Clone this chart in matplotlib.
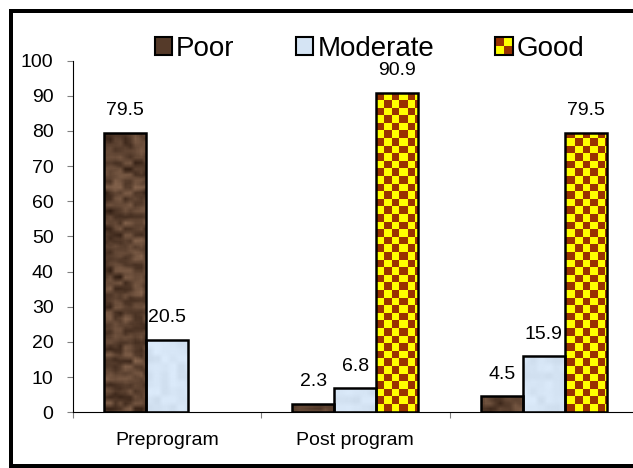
import numpy as np
import matplotlib.pyplot as plt
from matplotlib.patches import Rectangle
from matplotlib.legend_handler import HandlerBase


# --- data ---
categories = ["Preprogram", "Post program", ""]
series_names = ["Poor", "Moderate", "Good"]
poor = [79.5, 2.3, 4.5]
moderate = [20.5, 6.8, 15.9]
good = [0.0, 90.9, 79.5]
y_ticks = list(range(0, 101, 10))

plt.rcParams["font.family"] = ["Liberation Sans", "DejaVu Sans"]

W, H = 633, 468
fig = plt.figure(figsize=(W / 100, H / 100), dpi=100)
ax = fig.add_axes([72.7 / W, 55.7 / H, 565.3 / W, 351.8 / H])
XMIN, XMAX, YMIN, YMAX = -0.5, 2.5, 0, 100

# axes box size in pixels, used to size the fill textures
px_w, px_h = 566, 352
rng = np.random.default_rng(11)


def blocky_noise(by, bx):
    coarse = rng.random((px_h // by + 2, px_w // bx + 2))
    return np.kron(coarse, np.ones((by, bx)))[:px_h, :px_w]


def smooth(a, r=2):
    # small box blur made from shifted copies
    out = np.zeros_like(a)
    n = 0
    for dy in range(-r, r + 1):
        for dx in range(-r, r + 1):
            out += np.roll(np.roll(a, dy, axis=0), dx, axis=1)
            n += 1
    return out / n


def wood_texture():
    t = 0.55 * blocky_noise(6, 10) + 0.3 * blocky_noise(3, 5) + 0.15 * rng.random((px_h, px_w))
    t = smooth(t, 2)
    t = (t - t.min()) / (t.max() - t.min())
    dark = np.array([48, 29, 18]) / 255
    light = np.array([140, 106, 82]) / 255
    return dark + t[..., None] * (light - dark)


def blue_texture():
    t = smooth(0.7 * blocky_noise(8, 8) + 0.3 * rng.random((px_h, px_w)), 2)
    base = np.array([213, 228, 244]) / 255
    return np.clip(base + (t[..., None] - 0.5) * 0.08, 0, 1)


def checker_texture(size=7.6):
    yy, xx = np.mgrid[0:px_h, 0:px_w]
    mask = ((yy // size).astype(int) + (xx // size).astype(int)) % 2
    yellow = np.array([255, 255, 0]) / 255
    brown = np.array([153, 51, 0]) / 255
    return np.where(mask[..., None] == 1, brown, yellow)


textures = [wood_texture(), blue_texture(), checker_texture()]
legend_colors = ["#553a29", "#d5e4f4", None]

x = np.arange(len(categories))
w = 0.223
offsets = [-w, 0, w]

for vals, off, tex in zip([poor, moderate, good], offsets, textures):
    bars = ax.bar(x + off, vals, w, facecolor="none", edgecolor="black",
                  linewidth=1.8, zorder=3)
    for b, v in zip(bars, vals):
        if v <= 0:
            b.set_visible(False)
            continue
        im = ax.imshow(tex, extent=(XMIN, XMAX, YMIN, YMAX), aspect="auto",
                       origin="lower", interpolation="nearest", zorder=2)
        im.set_clip_path(b)
        ax.annotate(f"{v:.1f}", (b.get_x() + b.get_width() / 2, v),
                    xytext=(0, 16), textcoords="offset points",
                    ha="center", va="center", fontsize=14)

ax.set_xlim(XMIN, XMAX)
ax.set_ylim(YMIN, YMAX)

ax.set_yticks(y_ticks)
ax.tick_params(axis="y", length=4.3, width=0.8, color="#808080", pad=9.5,
               labelsize=14)
ax.set_xticks(x)
ax.set_xticklabels(categories)
ax.tick_params(axis="x", which="major", length=0, pad=14, labelsize=14)
ax.set_xticks(np.arange(XMIN, XMAX + 0.01, 1.0), minor=True)
ax.tick_params(axis="x", which="minor", length=4.3, width=0.8, color="#808080")

for side in ("top", "right"):
    ax.spines[side].set_visible(False)
for side in ("left", "bottom"):
    ax.spines[side].set_linewidth(0.8)
    ax.spines[side].set_color("black")


class CheckerHandler(HandlerBase):
    def create_artists(self, legend, orig_handle, xdescent, ydescent,
                       width, height, fontsize, trans):
        x0, y0 = -xdescent, -ydescent
        hw, hh = width / 2, height / 2
        arts = []
        for i in range(2):
            for j in range(2):
                c = "#993300" if (i + j) % 2 == 0 else "#ffff00"
                arts.append(Rectangle((x0 + j * hw, y0 + (1 - i) * hh), hw, hh,
                                      facecolor=c, edgecolor="none", transform=trans))
        arts.append(Rectangle((x0, y0), width, height, facecolor="none",
                              edgecolor="black", linewidth=1.5, transform=trans))
        return arts


handles = [Rectangle((0, 0), 1, 1, facecolor=legend_colors[0], edgecolor="black", linewidth=1.5),
           Rectangle((0, 0), 1, 1, facecolor=legend_colors[1], edgecolor="black", linewidth=1.5),
           Rectangle((0, 0), 1, 1)]
fig.legend(handles, series_names, loc="center", bbox_to_anchor=(0.584, 0.895),
           ncol=3, frameon=False, fontsize=20, handlelength=0.63, handleheight=0.63,
           handletextpad=0.15, columnspacing=2.2, borderpad=0,
           handler_map={handles[2]: CheckerHandler()})

# outer frame around the chart area, open on the right: three solid strips
# given in pixels from the top-left corner
strips = [(8.5, 8.5, W - 8.5, 4.5),     # top
          (8.5, 8.5, 4.5, H - 8.5),     # left
          (8.5, 463.5, W - 8.5, 4.5)]   # bottom
for sx, sy, sw, sh in strips:
    fig.add_artist(Rectangle((sx / W, 1 - (sy + sh) / H), sw / W, sh / H,
                             transform=fig.transFigure, facecolor="black",
                             edgecolor="none", zorder=30))

fig.savefig("out.png", dpi=100)
